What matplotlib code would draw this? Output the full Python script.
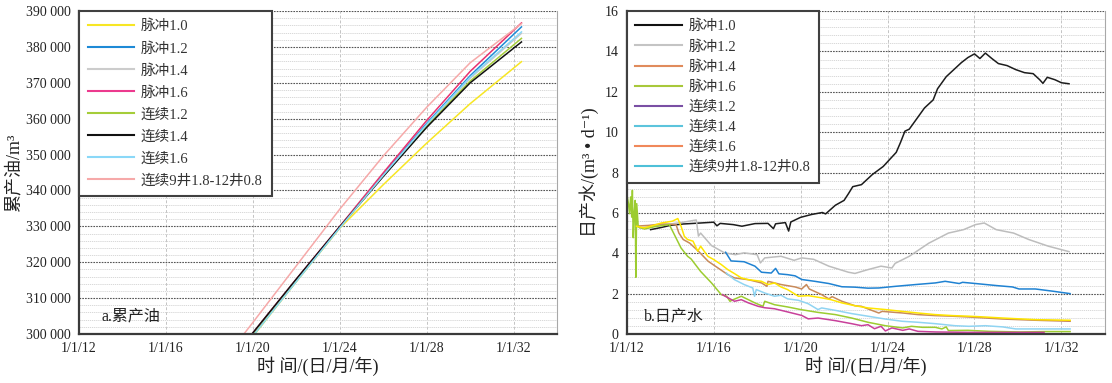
import matplotlib
matplotlib.use('Agg')
import matplotlib.pyplot as plt
from matplotlib.lines import Line2D
from matplotlib.ticker import MultipleLocator, FuncFormatter

plt.rcParams['font.family'] = ['Liberation Serif', 'Noto Sans CJK SC', 'DejaVu Sans']

# ---- shared ----
tick_years = [2012, 2016, 2020, 2024, 2028, 2032]
tick_labels = ['1/1/12', '1/1/16', '1/1/20', '1/1/24', '1/1/28', '1/1/32']

# ---- panel a: cumulative oil (m3) ----
oil_names = ['脉冲1.0', '脉冲1.2', '脉冲1.4', '脉冲1.6',
             '连续1.2', '连续1.4', '连续1.6', '连续9井1.8-12井0.8']
oil_years = [2019.0, 2020.0, 2022.0, 2024.0, 2026.0, 2028.0, 2030.0, 2032.36]
oil_pulse10 = [291800, 299300, 314600, 329500, 341600, 353200, 364200, 375900]
oil_pulse12 = [292400, 300000, 315000, 329800, 344500, 358700, 372000, 385600]
oil_pulse14 = [292300, 299900, 314900, 329700, 344200, 358200, 371300, 383800]
oil_pulse16 = [292600, 300300, 315300, 330000, 344900, 359500, 373200, 386700]
oil_cont12 = [292000, 299600, 314700, 329700, 344000, 357900, 370500, 382400]
oil_cont14 = [292600, 300300, 315300, 329900, 343900, 357600, 370000, 381400]
oil_cont16 = [291800, 299400, 314600, 329600, 344200, 358400, 371600, 384200]
oil_mixed = [295400, 303200, 319000, 334800, 349600, 363200, 375600, 386500]
oil_colors = ['#f7e624', '#1e8ad6', '#c8c8c8', '#e8306e',
              '#a5cd39', '#111111', '#8ad8f8', '#f6a9a9']
oil_legend_colors = ['#f7e624', '#1e8ad6', '#cccccc', '#ec3a8e',
                     '#a5cd39', '#111111', '#8ad8f8', '#f6a9a9']

# ---- panel b: daily water (m3/d), (year, value) pairs ----
wat_pulse10 = [(2013.1, 5.17), (2013.6, 5.28), (2014.0, 5.38), (2014.6, 5.45), (2015.4, 5.50),
               (2016.0, 5.54), (2016.15, 5.36), (2016.3, 5.48), (2016.9, 5.42), (2017.3, 5.34),
               (2017.9, 5.47), (2018.5, 5.48), (2018.75, 5.22), (2018.85, 5.46), (2019.3, 5.52),
               (2019.45, 5.10), (2019.55, 5.55), (2020.0, 5.78), (2020.5, 5.92), (2021.0, 6.02),
               (2021.15, 5.95), (2021.6, 6.38), (2022.0, 6.62), (2022.2, 6.95), (2022.4, 7.30),
               (2022.8, 7.40), (2023.3, 7.90), (2023.8, 8.30), (2024.1, 8.65), (2024.4, 9.00),
               (2024.6, 9.50), (2024.8, 10.05), (2025.0, 10.15), (2025.3, 10.60), (2025.7, 11.20),
               (2026.1, 11.60), (2026.3, 12.15), (2026.7, 12.75), (2027.1, 13.15), (2027.4, 13.45),
               (2027.7, 13.70), (2028.0, 13.88), (2028.25, 13.65), (2028.5, 13.92), (2028.8, 13.65),
               (2029.1, 13.40), (2029.5, 13.30), (2029.9, 13.10), (2030.3, 12.95), (2030.7, 12.90),
               (2031.0, 12.60), (2031.15, 12.42), (2031.35, 12.72), (2031.7, 12.60), (2032.0, 12.45),
               (2032.35, 12.40)]
wat_pulse12 = [(2012.6, 5.25), (2013.0, 5.30), (2013.5, 5.40), (2014.0, 5.45), (2014.5, 5.52),
               (2015.2, 5.65), (2015.3, 4.85), (2015.4, 5.00), (2015.9, 4.38), (2016.5, 4.02),
               (2017.0, 3.93), (2017.4, 4.02), (2018.0, 3.93), (2018.15, 3.52), (2018.35, 3.77),
               (2019.1, 3.85), (2019.7, 3.65), (2020.05, 3.77), (2020.6, 3.70), (2021.3, 3.36),
               (2022.2, 3.06), (2022.5, 3.00), (2023.1, 3.19), (2023.7, 3.36), (2024.2, 3.27),
               (2024.35, 3.50), (2025.0, 3.85), (2025.9, 4.50), (2026.8, 5.00), (2027.5, 5.17),
               (2028.05, 5.42), (2028.45, 5.50), (2029.0, 5.17), (2029.8, 5.00), (2030.5, 4.68),
               (2031.4, 4.35), (2032.35, 4.08)]
wat_pulse14 = [(2012.5, 5.35), (2013.0, 5.38), (2013.6, 5.45), (2014.27, 5.42), (2014.4, 5.00),
               (2014.6, 4.68), (2014.9, 4.50), (2015.3, 4.10), (2015.75, 3.60), (2016.2, 3.27),
               (2016.65, 2.94), (2016.95, 2.78), (2017.6, 2.69), (2018.2, 2.53), (2018.45, 2.36),
               (2018.5, 2.61), (2019.1, 2.45), (2019.75, 2.33), (2020.05, 2.23), (2020.27, 2.45),
               (2020.4, 2.23), (2020.97, 1.95), (2021.3, 1.74), (2021.45, 1.85), (2021.9, 1.62),
               (2022.5, 1.40), (2022.8, 1.37), (2023.2, 1.20), (2023.6, 1.04), (2023.75, 1.12),
               (2024.7, 1.04), (2025.4, 0.96), (2026.2, 0.91), (2027.0, 0.88), (2027.75, 0.84),
               (2029.3, 0.74), (2030.8, 0.68), (2032.4, 0.63)]
wat_pulse16 = [(2012.0, 6.95), (2012.08, 6.46), (2012.13, 5.96), (2012.18, 6.79), (2012.23, 5.79),
               (2012.26, 7.12), (2012.3, 4.77), (2012.34, 5.96), (2012.39, 6.62), (2012.42, 2.81),
               (2012.46, 6.46), (2012.53, 5.30), (2012.82, 5.20), (2013.3, 5.32), (2013.96, 5.42),
               (2014.5, 4.26), (2014.8, 3.85), (2014.96, 3.72), (2015.4, 3.10), (2015.9, 2.53),
               (2016.35, 1.95), (2016.6, 1.87), (2016.75, 1.62), (2016.9, 1.70), (2017.27, 1.87),
               (2017.9, 1.54), (2018.27, 1.37), (2018.35, 1.62), (2018.8, 1.45), (2019.4, 1.34),
               (2020.0, 1.21), (2020.8, 1.07), (2021.6, 0.96), (2022.35, 0.79), (2023.1, 0.58),
               (2023.9, 0.41), (2024.7, 0.30), (2025.1, 0.38), (2025.6, 0.33), (2026.2, 0.33),
               (2026.5, 0.25), (2026.7, 0.35), (2026.8, 0.17), (2027.7, 0.18), (2028.7, 0.13),
               (2030.1, 0.10), (2031.3, 0.12), (2032.4, 0.12)]
wat_cont12 = [(2016.4, 1.95), (2016.65, 1.80), (2016.96, 1.62), (2017.27, 1.70), (2017.6, 1.54),
              (2018.05, 1.37), (2018.35, 1.30), (2018.8, 1.25), (2019.3, 1.12), (2019.6, 1.04),
              (2020.05, 0.92), (2020.35, 0.75), (2020.8, 0.79), (2021.6, 0.66), (2022.35, 0.51),
              (2022.8, 0.41), (2023.1, 0.46), (2023.4, 0.26), (2023.7, 0.38), (2023.9, 0.15),
              (2024.2, 0.30), (2024.7, 0.18), (2025.0, 0.25), (2025.4, 0.13), (2026.2, 0.10),
              (2027.7, 0.08), (2029.3, 0.08), (2031.2, 0.08)]
wat_cont14 = [(2016.58, 3.02), (2016.96, 2.69), (2017.4, 2.45), (2017.8, 2.28), (2017.88, 1.87),
              (2017.96, 2.20), (2018.35, 2.03), (2018.8, 1.87), (2019.1, 1.92), (2019.4, 1.74),
              (2019.9, 1.67), (2020.35, 1.50), (2020.8, 1.21), (2020.97, 1.29), (2021.6, 1.17),
              (2022.35, 1.01), (2023.1, 0.88), (2023.9, 0.74), (2024.67, 0.63), (2025.4, 0.58),
              (2026.2, 0.51), (2027.1, 0.41), (2027.75, 0.38), (2028.5, 0.41), (2029.3, 0.35),
              (2029.9, 0.25), (2030.8, 0.25), (2032.4, 0.25)]
wat_cont16 = [(2012.45, 5.34), (2012.8, 5.26), (2013.1, 5.34), (2013.6, 5.50), (2014.1, 5.59),
              (2014.35, 5.72), (2014.5, 5.34), (2014.65, 4.84), (2014.8, 4.68), (2015.05, 4.60),
              (2015.27, 4.10), (2015.4, 4.35), (2015.73, 3.85), (2016.0, 3.69), (2016.35, 3.44),
              (2016.65, 3.19), (2016.96, 2.99), (2017.27, 2.78), (2017.6, 2.69), (2018.2, 2.61),
              (2018.5, 2.45), (2018.8, 2.53), (2019.1, 2.33), (2019.4, 2.20), (2019.9, 1.87),
              (2020.35, 1.90), (2020.97, 1.79), (2021.4, 1.70), (2021.9, 1.54), (2022.5, 1.40),
              (2023.1, 1.29), (2023.9, 1.21), (2024.67, 1.12), (2025.4, 1.04), (2026.2, 0.96),
              (2027.0, 0.91), (2027.75, 0.88), (2028.5, 0.84), (2029.3, 0.79), (2030.8, 0.71),
              (2032.4, 0.68)]
wat_mixed = [(2016.55, 4.05), (2016.8, 3.62), (2017.4, 3.58), (2017.9, 3.36), (2018.2, 3.06),
             (2018.65, 3.02), (2018.85, 3.25), (2019.0, 2.98), (2019.4, 2.94), (2019.75, 2.88),
             (2020.05, 2.70), (2020.65, 2.61), (2021.3, 2.50), (2021.9, 2.34), (2022.5, 2.32),
             (2023.1, 2.27), (2023.6, 2.28), (2024.35, 2.36), (2025.3, 2.45), (2026.2, 2.53),
             (2026.65, 2.61), (2027.3, 2.50), (2027.45, 2.56), (2028.05, 2.50), (2029.0, 2.40),
             (2029.75, 2.33), (2030.05, 2.23), (2030.8, 2.23), (2031.6, 2.12), (2032.4, 2.00)]
wat_colors = ['#1c1c1c', '#bdbdbd', '#c88a5a', '#9ccc30',
              '#c8409a', '#90d4f2', '#ffe600', '#1f82d2']
wat_legend_colors = ['#111111', '#c4c4c4', '#e08b5c', '#a8c83a',
                     '#7a4fa4', '#5cc4dc', '#f0885a', '#4ec0d8']


def style_axes(ax, minor_step):
    ax.set_xlim(2012, 2034)
    ax.set_xticks(tick_years)
    ax.set_xticklabels(tick_labels)
    ax.yaxis.set_minor_locator(MultipleLocator(minor_step))
    ax.grid(True, which='minor', axis='y', color='#d2d2d2', linestyle=(0, (1.5, 1)), lw=0.6)
    ax.grid(True, which='major', axis='y', color='#555555', linestyle=(0, (1.5, 1)), lw=0.8)
    ax.grid(True, which='major', axis='x', color='#c4c4c4', linestyle=(0, (3, 2)), lw=0.7)
    ax.set_axisbelow(True)
    ax.tick_params(which='both', length=0, labelsize=10, pad=6, labelcolor='#222222')
    ax.spines['top'].set_visible(False)
    ax.spines['right'].set_color('#a8a8a8')
    for s in ('left', 'bottom'):
        ax.spines[s].set_color('#3a3a3a')
        ax.spines[s].set_linewidth(1.6)
    ax.set_xlabel('时 间/(日/月/年)', fontsize=13, labelpad=1, color='#222222')


def add_legend(ax, names, colors, spacing):
    handles = [Line2D([], [], color=c, lw=1.5) for c in colors]
    leg = ax.legend(handles, names, loc='upper left', bbox_to_anchor=(0, 1),
                    borderaxespad=0, fancybox=False, framealpha=1,
                    edgecolor='#404040', fontsize=10.5, handlelength=3.2,
                    handletextpad=0.45, labelspacing=spacing, borderpad=0.6,
                    labelcolor='#333333')
    leg.get_frame().set_linewidth(1.5)


fig = plt.figure(figsize=(11.12, 3.83), dpi=100)
ax1 = fig.add_axes([0.071, 0.128, 0.430, 0.843])
ax2 = fig.add_axes([0.5636, 0.128, 0.430, 0.843])

# panel a
oil_series = [oil_pulse10, oil_pulse12, oil_pulse14, oil_pulse16,
              oil_cont12, oil_cont14, oil_cont16, oil_mixed]
for vals, c in zip(oil_series, oil_colors):
    ax1.plot(oil_years, vals, color=c, lw=1.1)
ax1.set_ylim(300000, 390000)
ax1.set_yticks(range(300000, 390001, 10000))
ax1.yaxis.set_major_formatter(FuncFormatter(lambda v, p: f'{int(v):,}'.replace(',', ' ')))
style_axes(ax1, 2000)
ax1.set_ylabel('累产油/m³', fontsize=13, labelpad=2, color='#222222')
add_legend(ax1, oil_names, oil_legend_colors, 0.58)
ax1.text(0.047, 0.054, 'a.累产油', transform=ax1.transAxes, fontsize=11.5, va='center',
         color='#222222')

# panel b
wat_series = [wat_pulse10, wat_pulse12, wat_pulse14, wat_pulse16,
              wat_cont12, wat_cont14, wat_cont16, wat_mixed]
for pts, c in zip(wat_series, wat_colors):
    xs, ys = zip(*pts)
    ax2.plot(xs, ys, color=c, lw=1.1)
ax2.set_ylim(0, 16)
ax2.set_yticks(range(0, 17, 2))
style_axes(ax2, 0.4)
ax2.set_ylabel('日产水/(m³ • d⁻¹)', fontsize=13, labelpad=4, color='#222222')
add_legend(ax2, oil_names, wat_legend_colors, 0.45)
ax2.text(0.035, 0.054, 'b.日产水', transform=ax2.transAxes, fontsize=11.5, va='center',
         color='#222222')

fig.savefig('out.png', dpi=100)
